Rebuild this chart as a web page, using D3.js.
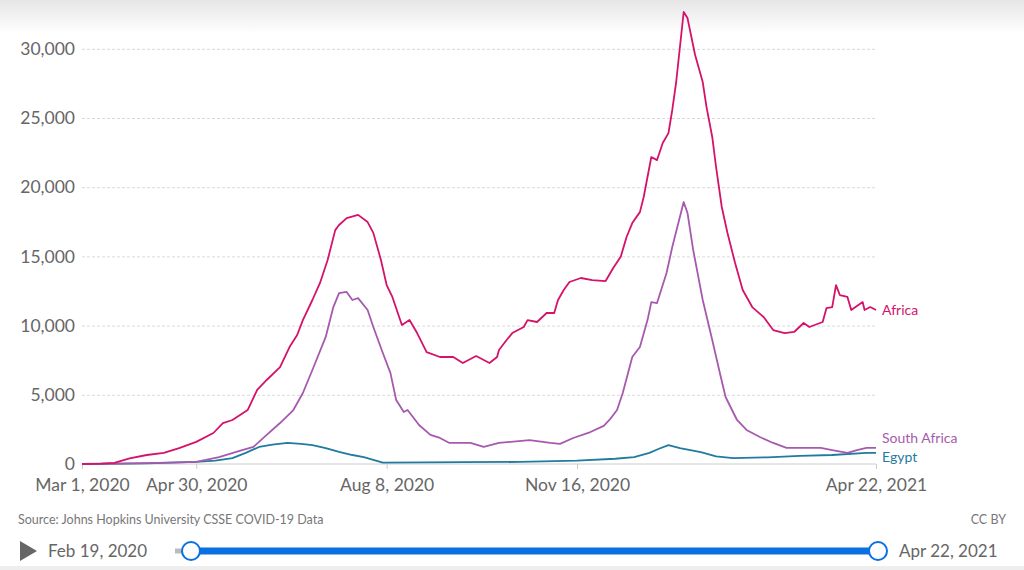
<!DOCTYPE html>
<html lang="en">
<head>
  <meta charset="UTF-8">
  <title>Daily new confirmed COVID-19 cases</title>
  <script src="https://d3js.org/d3.v7.min.js"></script>
  <style>
    html, body {
      margin: 0;
      padding: 0;
      background: #fff;
      font-family: Lato, "Open Sans", sans-serif;
    }
    svg {
      display: block;
    }
    .tick text {
      fill: #666;
      font-size: 17.5px;
      font-family: Lato, sans-serif;
    }
  </style>
</head>
<body>
  <svg width="1024" height="570"></svg>

  <script>
    // 7-day rolling average of daily new confirmed cases
    const africa = [
      ['2020-03-01', 0], ['2020-03-11', 20], ['2020-03-18', 80], ['2020-03-26', 400],
      ['2020-04-04', 650], ['2020-04-13', 800], ['2020-04-21', 1150], ['2020-04-30', 1600],
      ['2020-05-09', 2240], ['2020-05-14', 2960], ['2020-05-19', 3180], ['2020-05-27', 3900],
      ['2020-06-01', 5350], ['2020-06-06', 6070], ['2020-06-13', 7000], ['2020-06-18', 8450],
      ['2020-06-22', 9320], ['2020-06-25', 10400], ['2020-06-30', 11850], ['2020-07-04', 13080],
      ['2020-07-08', 14740], ['2020-07-12', 16900], ['2020-07-14', 17270], ['2020-07-18', 17770],
      ['2020-07-24', 18000], ['2020-07-29', 17480], ['2020-08-01', 16700], ['2020-08-05', 14740],
      ['2020-08-08', 12930], ['2020-08-11', 12070], ['2020-08-16', 10040], ['2020-08-20', 10400],
      ['2020-08-24', 9460], ['2020-08-29', 8090], ['2020-09-05', 7730], ['2020-09-12', 7730],
      ['2020-09-17', 7300], ['2020-09-24', 7800], ['2020-10-01', 7300], ['2020-10-05', 7730],
      ['2020-10-06', 8240], ['2020-10-10', 8960], ['2020-10-13', 9460], ['2020-10-19', 9900],
      ['2020-10-21', 10400], ['2020-10-26', 10260], ['2020-10-31', 10910], ['2020-11-04', 10910],
      ['2020-11-06', 11850], ['2020-11-09', 12570], ['2020-11-12', 13150], ['2020-11-18', 13440],
      ['2020-11-24', 13290], ['2020-12-01', 13220], ['2020-12-05', 14160], ['2020-12-09', 15000],
      ['2020-12-12', 16400], ['2020-12-15', 17410], ['2020-12-19', 18200], ['2020-12-21', 19290],
      ['2020-12-25', 22180], ['2020-12-28', 21960], ['2020-12-31', 23190], ['2021-01-03', 23910],
      ['2021-01-05', 25580], ['2021-01-07', 27530], ['2021-01-11', 32660], ['2021-01-13', 32220],
      ['2021-01-17', 29550], ['2021-01-21', 27600], ['2021-01-23', 25790], ['2021-01-26', 23630],
      ['2021-01-28', 21460], ['2021-01-31', 18570], ['2021-02-03', 16690], ['2021-02-07', 14520],
      ['2021-02-11', 12570], ['2021-02-16', 11340], ['2021-02-22', 10620], ['2021-02-27', 9680],
      ['2021-03-05', 9460], ['2021-03-10', 9540], ['2021-03-15', 10190], ['2021-03-18', 9900],
      ['2021-03-25', 10260], ['2021-03-27', 11270], ['2021-03-30', 11340], ['2021-04-01', 12930],
      ['2021-04-03', 12210], ['2021-04-07', 12070], ['2021-04-09', 11130], ['2021-04-15', 11700],
      ['2021-04-16', 11130], ['2021-04-19', 11340], ['2021-04-22', 11130]
    ];

    const southAfrica = [
      ['2020-03-01', 0], ['2020-03-21', 20], ['2020-04-10', 80], ['2020-04-30', 150],
      ['2020-05-12', 500], ['2020-05-21', 870], ['2020-05-30', 1230], ['2020-06-06', 2100],
      ['2020-06-13', 2960], ['2020-06-20', 3900], ['2020-06-25', 5130], ['2020-06-30', 6790],
      ['2020-07-07', 9180], ['2020-07-11', 11340], ['2020-07-14', 12350], ['2020-07-18', 12430],
      ['2020-07-21', 11850], ['2020-07-24', 11990], ['2020-07-29', 11130], ['2020-08-01', 9900],
      ['2020-08-06', 8020], ['2020-08-10', 6570], ['2020-08-13', 4620], ['2020-08-17', 3760],
      ['2020-08-19', 3900], ['2020-08-25', 2820], ['2020-08-31', 2100], ['2020-09-05', 1880],
      ['2020-09-10', 1520], ['2020-09-21', 1520], ['2020-09-28', 1230], ['2020-10-06', 1520],
      ['2020-10-22', 1730], ['2020-11-02', 1520], ['2020-11-07', 1450], ['2020-11-14', 1880],
      ['2020-11-23', 2310], ['2020-11-30', 2750], ['2020-12-03', 3180], ['2020-12-07', 3900],
      ['2020-12-10', 5130], ['2020-12-15', 7730], ['2020-12-19', 8450], ['2020-12-23', 10400],
      ['2020-12-25', 11700], ['2020-12-28', 11630], ['2021-01-02', 13800], ['2021-01-05', 15680],
      ['2021-01-11', 18930], ['2021-01-13', 18140], ['2021-01-16', 15460], ['2021-01-21', 11850],
      ['2021-01-26', 8960], ['2021-01-30', 6570], ['2021-02-02', 4840], ['2021-02-08', 3180],
      ['2021-02-13', 2460], ['2021-02-20', 1950], ['2021-02-27', 1520], ['2021-03-06', 1160],
      ['2021-03-17', 1160], ['2021-03-24', 1160], ['2021-03-30', 1010], ['2021-04-07', 800],
      ['2021-04-12', 1010], ['2021-04-17', 1160], ['2021-04-22', 1160]
    ];

    const egypt = [
      ['2020-03-01', 0], ['2020-03-21', 20], ['2020-04-04', 50], ['2020-04-30', 150],
      ['2020-05-10', 250], ['2020-05-19', 430], ['2020-05-26', 800], ['2020-06-02', 1230],
      ['2020-06-09', 1400], ['2020-06-17', 1520], ['2020-06-24', 1450], ['2020-06-30', 1370],
      ['2020-07-07', 1150], ['2020-07-14', 870], ['2020-07-21', 650], ['2020-07-27', 500],
      ['2020-08-01', 300], ['2020-08-06', 100], ['2020-08-28', 120], ['2020-09-17', 130],
      ['2020-10-17', 150], ['2020-11-16', 250], ['2020-12-06', 380], ['2020-12-16', 500],
      ['2020-12-24', 800], ['2020-12-29', 1100], ['2021-01-03', 1370], ['2021-01-09', 1150],
      ['2021-01-20', 850], ['2021-01-28', 550], ['2021-02-06', 430], ['2021-02-24', 480],
      ['2021-03-13', 580], ['2021-03-30', 650], ['2021-04-17', 800], ['2021-04-22', 800]
    ];

    const seriesNames = ['Africa', 'South Africa', 'Egypt'];
    const seriesData = [africa, southAfrica, egypt];
    const seriesColors = ['#d5126a', '#a65aad', '#1f7b9f'];

    const xTickDates = ['2020-03-01', '2020-04-30', '2020-08-08', '2020-11-16', '2021-04-22'];
    const yTickValues = [0, 5000, 10000, 15000, 20000, 25000, 30000];

    const sourceText = 'Source: Johns Hopkins University CSSE COVID-19 Data';
    const licenseText = 'CC BY';
    const timelineStart = 'Feb 19, 2020';
    const timelineEnd = 'Apr 22, 2021';

    const svg = d3.select('svg');
    const margin = { top: 12, left: 82, right: 876, bottom: 464 };
    const parse = d3.timeParse('%Y-%m-%d');
    const fmtDate = d3.timeFormat('%b %-d, %Y');

    // top shadow of the frame
    const defs = svg.append('defs');
    const grad = defs.append('linearGradient')
      .attr('id', 'topShade').attr('x1', 0).attr('x2', 0).attr('y1', 0).attr('y2', 1);
    grad.append('stop').attr('offset', '0%').attr('stop-color', '#e6e6e6');
    grad.append('stop').attr('offset', '100%').attr('stop-color', '#ffffff');
    svg.append('rect').attr('x', 0).attr('y', 0).attr('width', 1024).attr('height', 34)
      .attr('fill', 'url(#topShade)');
    svg.append('rect').attr('x', 0).attr('y', 566).attr('width', 1024).attr('height', 4)
      .attr('fill', '#eeeeee');

    const xScale = d3.scaleTime()
      .domain([parse('2020-03-01'), parse('2021-04-22')])
      .range([margin.left, margin.right]);

    const yScale = d3.scaleLinear()
      .domain([0, d3.max(africa, d => d[1])])
      .range([margin.bottom, margin.top]);

    // gridlines + y labels
    const yAxis = svg.append('g')
      .attr('transform', `translate(${margin.left}, 0)`)
      .call(d3.axisLeft(yScale)
        .tickValues(yTickValues)
        .tickSize(-(margin.right - margin.left))
        .tickPadding(7)
        .tickFormat(d3.format(',')));
    yAxis.select('.domain').remove();
    yAxis.selectAll('.tick line')
      .attr('stroke', '#dadada')
      .attr('stroke-dasharray', '3,2')
      .filter(d => d === 0).remove();

    // x axis
    const xAxis = svg.append('g')
      .attr('transform', `translate(0, ${margin.bottom})`)
      .call(d3.axisBottom(xScale)
        .tickValues(xTickDates.map(parse))
        .tickSize(5)
        .tickPadding(6)
        .tickFormat(fmtDate));
    xAxis.select('.domain')
      .attr('stroke', '#cccccc')
      .attr('d', `M${margin.left},0H${margin.right}`);
    xAxis.selectAll('.tick line').attr('stroke', '#cccccc');
    xAxis.selectAll('.tick text').attr('dy', '0.9em');

    // lines
    const line = d3.line()
      .x(d => xScale(parse(d[0])))
      .y(d => yScale(d[1]));

    const order = [2, 1, 0];
    order.forEach(i => {
      svg.append('path')
        .datum(seriesData[i])
        .attr('fill', 'none')
        .attr('stroke', seriesColors[i])
        .attr('stroke-width', 1.8)
        .attr('stroke-linejoin', 'round')
        .attr('d', line);
    });

    // end labels, pushed apart (mostly upward) when they collide
    const labels = seriesNames.map((name, i) => {
      const last = seriesData[i][seriesData[i].length - 1];
      return { name, color: seriesColors[i], y: yScale(last[1]) };
    }).sort((a, b) => a.y - b.y);
    const minGap = 19;
    for (let k = 1; k < labels.length; k++) {
      const gap = labels[k].y - labels[k - 1].y;
      if (gap < minGap) {
        const shift = minGap - gap;
        labels[k - 1].y -= shift * 0.7;
        labels[k].y += shift * 0.3;
      }
    }
    svg.selectAll('.series-label')
      .data(labels)
      .enter()
      .append('text')
      .attr('class', 'series-label')
      .attr('x', margin.right + 6)
      .attr('y', d => d.y)
      .attr('dy', '0.35em')
      .attr('fill', d => d.color)
      .attr('font-size', 14)
      .text(d => d.name);

    // footer
    svg.append('text')
      .attr('x', 18).attr('y', 524)
      .attr('fill', '#777').attr('font-size', 12.5)
      .text(sourceText);
    svg.append('text')
      .attr('x', 1006).attr('y', 524)
      .attr('text-anchor', 'end')
      .attr('fill', '#777').attr('font-size', 12.5)
      .text(licenseText);

    // timeline
    const tlY = 551;
    svg.append('path')
      .attr('d', `M20,541L37,551L20,561Z`)
      .attr('fill', '#666');
    svg.append('text')
      .attr('x', 48).attr('y', tlY + 6)
      .attr('fill', '#666').attr('font-size', 17)
      .text(timelineStart);
    svg.append('line')
      .attr('x1', 175).attr('x2', 191).attr('y1', tlY).attr('y2', tlY)
      .attr('stroke', '#bbb').attr('stroke-width', 5);
    svg.append('line')
      .attr('x1', 191).attr('x2', 878).attr('y1', tlY).attr('y2', tlY)
      .attr('stroke', '#0a6fe0').attr('stroke-width', 7);
    [191, 878].forEach(cx => {
      svg.append('circle')
        .attr('cx', cx).attr('cy', tlY).attr('r', 9)
        .attr('fill', '#fff')
        .attr('stroke', '#0a6fe0').attr('stroke-width', 2);
    });
    svg.append('text')
      .attr('x', 899).attr('y', tlY + 6)
      .attr('fill', '#666').attr('font-size', 17)
      .text(timelineEnd);
  </script>
</body>
</html>
